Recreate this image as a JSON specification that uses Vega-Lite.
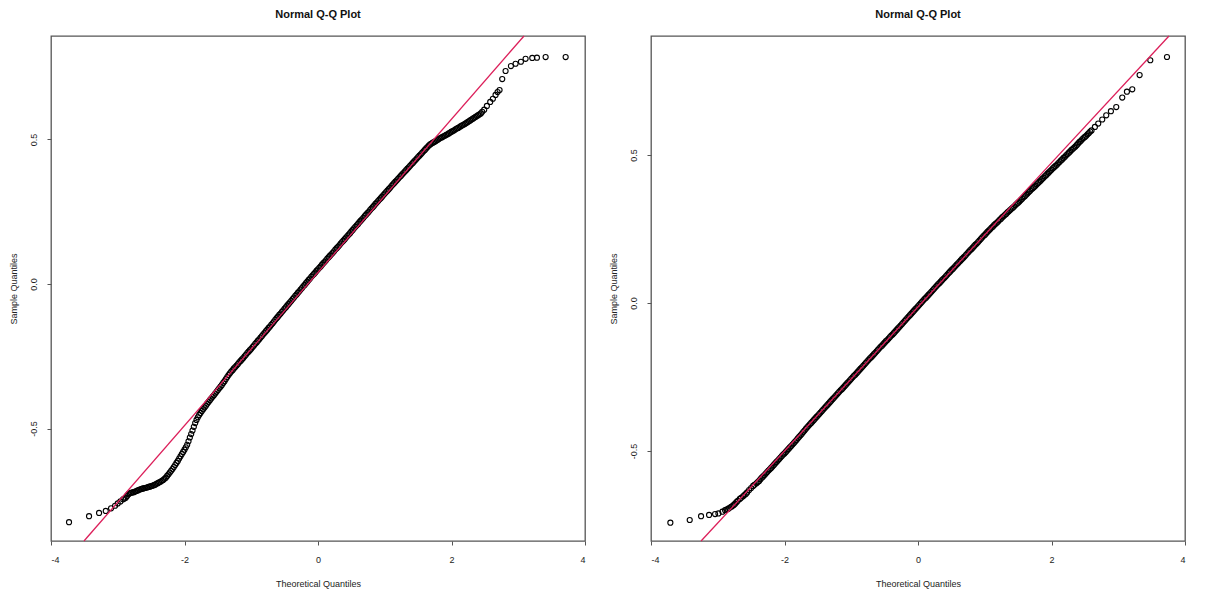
{
 "$schema": "https://vega.github.io/schema/vega-lite/v6.json",
 "padding": {"left": 8, "top": 8, "right": 0, "bottom": 0},
 "background": "white",
 "spacing": 66,
 "bounds": "flush",
 "config": {
  "font": "Liberation Sans",
  "view": {"stroke": "#555", "strokeWidth": 1.3},
  "axis": {"grid": false, "domain": false, "tickColor": "#555", "tickSize": 4, "labelFontSize": 9, "titleFontSize": 9, "labelColor": "#222", "titleColor": "#222", "titleFontWeight": "normal", "labelFont": "Liberation Sans", "titleFont": "Liberation Sans"},
  "title": {"fontSize": 11, "fontWeight": "bold", "color": "#111", "offset": 13, "anchor": "middle", "font": "Liberation Sans"}
 },
 "datasets": {
  "a": [
   {"x":-3.73,"y":-0.824},{"x":-3.43,"y":-0.803},{"x":-3.28,"y":-0.792},{"x":-3.18,"y":-0.785},{"x":-3.10,"y":-0.776},{"x":-3.04,"y":-0.767},{"x":-3.00,"y":-0.759},{"x":-2.96,"y":-0.752},{"x":-2.92,"y":-0.745},{"x":-2.88,"y":-0.739},{"x":-2.84,"y":-0.727},{"x":-2.80,"y":-0.722},{"x":-2.76,"y":-0.720},{"x":-2.72,"y":-0.716},{"x":-2.68,"y":-0.712},{"x":-2.64,"y":-0.709},{"x":-2.60,"y":-0.706},{"x":-2.56,"y":-0.704},{"x":-2.52,"y":-0.701},{"x":-2.48,"y":-0.698},{"x":-2.44,"y":-0.694},{"x":-2.40,"y":-0.689},{"x":-2.36,"y":-0.684},{"x":-2.32,"y":-0.678},{"x":-2.28,"y":-0.670},{"x":-2.24,"y":-0.658},{"x":-2.22,"y":-0.652},{"x":-2.20,"y":-0.646},{"x":-2.18,"y":-0.640},{"x":-2.16,"y":-0.633},{"x":-2.14,"y":-0.626},{"x":-2.12,"y":-0.619},{"x":-2.10,"y":-0.612},{"x":-2.08,"y":-0.604},{"x":-2.06,"y":-0.596},{"x":-2.04,"y":-0.588},{"x":-2.02,"y":-0.581},{"x":-2.00,"y":-0.573},{"x":-1.98,"y":-0.565},{"x":-1.96,"y":-0.556},{"x":-1.94,"y":-0.544},{"x":-1.92,"y":-0.531},{"x":-1.90,"y":-0.519},{"x":-1.88,"y":-0.507},{"x":-1.86,"y":-0.494},{"x":-1.84,"y":-0.481},{"x":-1.82,"y":-0.470},{"x":-1.80,"y":-0.461},{"x":-1.78,"y":-0.453},{"x":-1.76,"y":-0.446},{"x":-1.72,"y":-0.433},{"x":-1.68,"y":-0.421},{"x":-1.64,"y":-0.408},{"x":-1.60,"y":-0.396},{"x":-1.56,"y":-0.385},{"x":-1.52,"y":-0.373},{"x":-1.48,"y":-0.361},{"x":-1.44,"y":-0.349},{"x":-1.40,"y":-0.336},{"x":-1.36,"y":-0.322},{"x":-1.32,"y":-0.309},
   {"x":-1.28,"y":-0.298},{"x":-1.24,"y":-0.287},{"x":-1.20,"y":-0.277},{"x":-1.16,"y":-0.266},{"x":-1.12,"y":-0.256},{"x":-1.08,"y":-0.245},{"x":-1.04,"y":-0.234},{"x":-1.00,"y":-0.224},{"x":-0.96,"y":-0.213},{"x":-0.92,"y":-0.202},{"x":-0.88,"y":-0.191},{"x":-0.84,"y":-0.180},{"x":-0.80,"y":-0.169},{"x":-0.76,"y":-0.158},{"x":-0.72,"y":-0.147},{"x":-0.68,"y":-0.136},{"x":-0.64,"y":-0.124},{"x":-0.60,"y":-0.113},{"x":-0.56,"y":-0.102},{"x":-0.52,"y":-0.091},{"x":-0.48,"y":-0.080},{"x":-0.44,"y":-0.069},{"x":-0.40,"y":-0.058},{"x":-0.36,"y":-0.047},{"x":-0.32,"y":-0.036},{"x":-0.28,"y":-0.025},{"x":-0.24,"y":-0.014},{"x":-0.20,"y":-0.003},{"x":-0.16,"y":0.008},{"x":-0.12,"y":0.019},{"x":-0.08,"y":0.030},{"x":-0.04,"y":0.040},{"x":0.00,"y":0.051},{"x":0.04,"y":0.061},{"x":0.08,"y":0.072},{"x":0.12,"y":0.082},{"x":0.16,"y":0.093},{"x":0.20,"y":0.103},{"x":0.24,"y":0.113},{"x":0.28,"y":0.124},{"x":0.32,"y":0.134},{"x":0.36,"y":0.145},{"x":0.40,"y":0.155},{"x":0.44,"y":0.166},{"x":0.48,"y":0.176},{"x":0.52,"y":0.187},{"x":0.56,"y":0.198},{"x":0.60,"y":0.208},{"x":0.64,"y":0.219},{"x":0.68,"y":0.229},{"x":0.72,"y":0.240},{"x":0.76,"y":0.250},{"x":0.80,"y":0.261},{"x":0.84,"y":0.271},{"x":0.88,"y":0.282},{"x":0.92,"y":0.292},{"x":0.96,"y":0.302},{"x":1.00,"y":0.313},{"x":1.04,"y":0.323},{"x":1.08,"y":0.333},{"x":1.12,"y":0.344},{"x":1.16,"y":0.354},{"x":1.20,"y":0.364},{"x":1.24,"y":0.374},{"x":1.28,"y":0.384},{"x":1.32,"y":0.394},{"x":1.36,"y":0.404},{"x":1.40,"y":0.414},{"x":1.44,"y":0.424},{"x":1.48,"y":0.434},{"x":1.52,"y":0.444},{"x":1.56,"y":0.454},{"x":1.60,"y":0.464},{"x":1.64,"y":0.474},{"x":1.68,"y":0.483},
   {"x":1.72,"y":0.489},{"x":1.76,"y":0.494},{"x":1.80,"y":0.500},{"x":1.84,"y":0.506},{"x":1.88,"y":0.511},{"x":1.92,"y":0.516},{"x":1.96,"y":0.521},{"x":2.00,"y":0.527},{"x":2.04,"y":0.532},{"x":2.08,"y":0.538},{"x":2.12,"y":0.543},{"x":2.16,"y":0.549},{"x":2.20,"y":0.554},{"x":2.24,"y":0.560},{"x":2.28,"y":0.566},{"x":2.32,"y":0.572},{"x":2.36,"y":0.578},{"x":2.40,"y":0.584},{"x":2.44,"y":0.590},{"x":2.46,"y":0.596},{"x":2.49,"y":0.603},{"x":2.53,"y":0.616},{"x":2.58,"y":0.630},{"x":2.62,"y":0.641},{"x":2.66,"y":0.654},{"x":2.69,"y":0.664},{"x":2.72,"y":0.671},{"x":2.76,"y":0.709},{"x":2.81,"y":0.737},{"x":2.89,"y":0.754},{"x":2.96,"y":0.762},{"x":3.04,"y":0.769},{"x":3.11,"y":0.779},{"x":3.21,"y":0.782},{"x":3.28,"y":0.783},{"x":3.41,"y":0.785},{"x":3.71,"y":0.785},
   {"x":-2.90,"y":-0.742},{"x":-2.86,"y":-0.733},{"x":-2.82,"y":-0.724},{"x":-2.78,"y":-0.721},{"x":-2.74,"y":-0.718},{"x":-2.70,"y":-0.714},{"x":-2.66,"y":-0.710},{"x":-2.62,"y":-0.707},{"x":-2.58,"y":-0.705},{"x":-2.54,"y":-0.702},{"x":-2.50,"y":-0.699},{"x":-2.46,"y":-0.696},{"x":-2.42,"y":-0.691},{"x":-2.38,"y":-0.686},{"x":-2.34,"y":-0.681},{"x":-2.30,"y":-0.674},{"x":-2.26,"y":-0.664},
   {"x":-1.74,"y":-0.439},{"x":-1.70,"y":-0.427},{"x":-1.66,"y":-0.414},{"x":-1.62,"y":-0.402},{"x":-1.58,"y":-0.390},{"x":-1.54,"y":-0.379},{"x":-1.50,"y":-0.367},{"x":-1.46,"y":-0.355},{"x":-1.42,"y":-0.342},{"x":-1.38,"y":-0.329},{"x":-1.34,"y":-0.315},{"x":-1.30,"y":-0.303},{"x":-1.26,"y":-0.292},{"x":-1.22,"y":-0.282},{"x":-1.18,"y":-0.271},{"x":-1.14,"y":-0.261},{"x":-1.10,"y":-0.250},{"x":-1.06,"y":-0.239},{"x":-1.02,"y":-0.229},{"x":-0.98,"y":-0.218},{"x":-0.94,"y":-0.207},{"x":-0.90,"y":-0.196},{"x":-0.86,"y":-0.185},{"x":-0.82,"y":-0.174},{"x":-0.78,"y":-0.163},{"x":-0.74,"y":-0.152},{"x":-0.70,"y":-0.141},{"x":-0.66,"y":-0.130},{"x":-0.62,"y":-0.118},{"x":-0.58,"y":-0.107},{"x":-0.54,"y":-0.096},{"x":-0.50,"y":-0.085},{"x":-0.46,"y":-0.074},{"x":-0.42,"y":-0.063},{"x":-0.38,"y":-0.052},{"x":-0.34,"y":-0.041},{"x":-0.30,"y":-0.030},{"x":-0.26,"y":-0.019},{"x":-0.22,"y":-0.008},{"x":-0.18,"y":0.003},{"x":-0.14,"y":0.014},{"x":-0.10,"y":0.025},{"x":-0.06,"y":0.035},{"x":-0.02,"y":0.046},{"x":0.02,"y":0.056},{"x":0.06,"y":0.067},{"x":0.10,"y":0.077},{"x":0.14,"y":0.088},{"x":0.18,"y":0.098},{"x":0.22,"y":0.108},{"x":0.26,"y":0.119},{"x":0.30,"y":0.129},{"x":0.34,"y":0.140},{"x":0.38,"y":0.150},{"x":0.42,"y":0.161},{"x":0.46,"y":0.171},{"x":0.50,"y":0.182},{"x":0.54,"y":0.193},{"x":0.58,"y":0.203},{"x":0.62,"y":0.214},{"x":0.66,"y":0.224},{"x":0.70,"y":0.235},{"x":0.74,"y":0.245},{"x":0.78,"y":0.256},{"x":0.82,"y":0.266},{"x":0.86,"y":0.277},{"x":0.90,"y":0.287},{"x":0.94,"y":0.297},{"x":0.98,"y":0.308},{"x":1.02,"y":0.318},{"x":1.06,"y":0.328},{"x":1.10,"y":0.339},{"x":1.14,"y":0.349},{"x":1.18,"y":0.359},{"x":1.22,"y":0.369},{"x":1.26,"y":0.379},{"x":1.30,"y":0.389},{"x":1.34,"y":0.399},{"x":1.38,"y":0.409},{"x":1.42,"y":0.419},{"x":1.46,"y":0.429},{"x":1.50,"y":0.439},{"x":1.54,"y":0.449},{"x":1.58,"y":0.459},{"x":1.62,"y":0.469},{"x":1.66,"y":0.479},{"x":1.70,"y":0.486},{"x":1.74,"y":0.491},{"x":1.78,"y":0.497},{"x":1.82,"y":0.503},{"x":1.86,"y":0.508},{"x":1.90,"y":0.513},{"x":1.94,"y":0.518},{"x":1.98,"y":0.524},{"x":2.02,"y":0.529},{"x":2.06,"y":0.535},{"x":2.10,"y":0.540},{"x":2.14,"y":0.546},{"x":2.18,"y":0.551},{"x":2.22,"y":0.557},{"x":2.26,"y":0.563},{"x":2.30,"y":0.569},{"x":2.34,"y":0.575},{"x":2.38,"y":0.581},{"x":2.42,"y":0.587}
  ],
  "b": [
   {"x":-3.71,"y":-0.742},{"x":-3.42,"y":-0.733},{"x":-3.25,"y":-0.720},{"x":-3.13,"y":-0.716},{"x":-3.04,"y":-0.713},{"x":-2.99,"y":-0.711},{"x":-2.93,"y":-0.705},{"x":-2.89,"y":-0.700},{"x":-2.85,"y":-0.696},{"x":-2.80,"y":-0.689},{"x":-2.76,"y":-0.682},{"x":-2.72,"y":-0.673},{"x":-2.67,"y":-0.662},{"x":-2.62,"y":-0.653},{"x":-2.58,"y":-0.645},{"x":-2.53,"y":-0.632},{"x":-2.47,"y":-0.618},{"x":-2.42,"y":-0.609},{"x":-2.38,"y":-0.601},
   {"x":-2.36,"y":-0.595},{"x":-2.32,"y":-0.586},{"x":-2.28,"y":-0.576},{"x":-2.24,"y":-0.566},{"x":-2.20,"y":-0.557},{"x":-2.16,"y":-0.547},{"x":-2.12,"y":-0.537},{"x":-2.08,"y":-0.527},{"x":-2.04,"y":-0.517},{"x":-2.00,"y":-0.508},{"x":-1.96,"y":-0.498},{"x":-1.92,"y":-0.488},{"x":-1.88,"y":-0.478},{"x":-1.84,"y":-0.468},{"x":-1.80,"y":-0.457},{"x":-1.76,"y":-0.447},{"x":-1.72,"y":-0.436},{"x":-1.68,"y":-0.425},{"x":-1.64,"y":-0.415},{"x":-1.60,"y":-0.405},{"x":-1.56,"y":-0.395},{"x":-1.52,"y":-0.385},{"x":-1.48,"y":-0.375},{"x":-1.44,"y":-0.365},{"x":-1.40,"y":-0.355},{"x":-1.36,"y":-0.345},{"x":-1.32,"y":-0.335},{"x":-1.28,"y":-0.325},{"x":-1.24,"y":-0.315},{"x":-1.20,"y":-0.305},{"x":-1.16,"y":-0.295},{"x":-1.12,"y":-0.286},{"x":-1.08,"y":-0.276},{"x":-1.04,"y":-0.266},{"x":-1.00,"y":-0.256},{"x":-0.96,"y":-0.246},{"x":-0.92,"y":-0.237},{"x":-0.88,"y":-0.227},{"x":-0.84,"y":-0.217},{"x":-0.80,"y":-0.207},{"x":-0.76,"y":-0.197},{"x":-0.72,"y":-0.187},{"x":-0.68,"y":-0.178},{"x":-0.64,"y":-0.168},{"x":-0.60,"y":-0.158},{"x":-0.56,"y":-0.148},{"x":-0.52,"y":-0.139},{"x":-0.48,"y":-0.129},{"x":-0.44,"y":-0.120},{"x":-0.40,"y":-0.110},{"x":-0.36,"y":-0.101},{"x":-0.32,"y":-0.091},{"x":-0.28,"y":-0.081},{"x":-0.24,"y":-0.071},{"x":-0.20,"y":-0.061},{"x":-0.16,"y":-0.051},{"x":-0.12,"y":-0.041},{"x":-0.08,"y":-0.031},{"x":-0.04,"y":-0.021},{"x":0.00,"y":-0.011},{"x":0.04,"y":-0.001},{"x":0.08,"y":0.009},{"x":0.12,"y":0.018},{"x":0.16,"y":0.028},{"x":0.20,"y":0.038},{"x":0.24,"y":0.048},{"x":0.28,"y":0.058},{"x":0.32,"y":0.067},{"x":0.36,"y":0.077},{"x":0.40,"y":0.086},{"x":0.44,"y":0.096},{"x":0.48,"y":0.106},{"x":0.52,"y":0.115},{"x":0.56,"y":0.125},{"x":0.60,"y":0.134},{"x":0.64,"y":0.144},{"x":0.68,"y":0.153},{"x":0.72,"y":0.163},{"x":0.76,"y":0.173},{"x":0.80,"y":0.182},{"x":0.84,"y":0.192},{"x":0.88,"y":0.201},{"x":0.92,"y":0.211},{"x":0.96,"y":0.221},{"x":1.00,"y":0.230},{"x":1.04,"y":0.240},{"x":1.08,"y":0.249},{"x":1.12,"y":0.258},{"x":1.16,"y":0.267},{"x":1.20,"y":0.275},{"x":1.24,"y":0.284},{"x":1.28,"y":0.293},{"x":1.32,"y":0.301},{"x":1.36,"y":0.310},{"x":1.40,"y":0.318},{"x":1.44,"y":0.326},{"x":1.48,"y":0.335},{"x":1.52,"y":0.343},{"x":1.56,"y":0.352},{"x":1.60,"y":0.361},{"x":1.64,"y":0.370},{"x":1.68,"y":0.379},{"x":1.72,"y":0.388},{"x":1.76,"y":0.396},{"x":1.80,"y":0.405},{"x":1.84,"y":0.414},{"x":1.88,"y":0.423},{"x":1.92,"y":0.432},{"x":1.96,"y":0.441},{"x":2.00,"y":0.450},{"x":2.04,"y":0.459},{"x":2.08,"y":0.467},{"x":2.12,"y":0.476},{"x":2.16,"y":0.485},{"x":2.20,"y":0.494},{"x":2.24,"y":0.503},{"x":2.28,"y":0.512},{"x":2.32,"y":0.521},{"x":2.36,"y":0.529},{"x":2.40,"y":0.539},{"x":2.44,"y":0.548},{"x":2.48,"y":0.557},{"x":2.52,"y":0.565},{"x":2.56,"y":0.574},{"x":2.60,"y":0.583},
   {"x":2.65,"y":0.595},{"x":2.70,"y":0.606},{"x":2.76,"y":0.620},{"x":2.82,"y":0.634},{"x":2.89,"y":0.648},{"x":2.97,"y":0.662},{"x":3.06,"y":0.694},{"x":3.13,"y":0.714},{"x":3.21,"y":0.722},{"x":3.32,"y":0.770},{"x":3.48,"y":0.820},{"x":3.73,"y":0.831},
   {"x":-2.87,"y":-0.698},{"x":-2.83,"y":-0.693},{"x":-2.78,"y":-0.686},{"x":-2.74,"y":-0.678},{"x":-2.70,"y":-0.668},{"x":-2.65,"y":-0.658},{"x":-2.60,"y":-0.649},{"x":-2.56,"y":-0.640},{"x":-2.50,"y":-0.625},{"x":-2.45,"y":-0.614},{"x":-2.40,"y":-0.605},
   {"x":-2.34,"y":-0.590},{"x":-2.30,"y":-0.581},{"x":-2.26,"y":-0.571},{"x":-2.22,"y":-0.562},{"x":-2.18,"y":-0.552},{"x":-2.14,"y":-0.542},{"x":-2.10,"y":-0.532},{"x":-2.06,"y":-0.522},{"x":-2.02,"y":-0.512},{"x":-1.98,"y":-0.503},{"x":-1.94,"y":-0.493},{"x":-1.90,"y":-0.483},{"x":-1.86,"y":-0.473},{"x":-1.82,"y":-0.463},{"x":-1.78,"y":-0.452},{"x":-1.74,"y":-0.442},{"x":-1.70,"y":-0.431},{"x":-1.66,"y":-0.420},{"x":-1.62,"y":-0.410},{"x":-1.58,"y":-0.400},{"x":-1.54,"y":-0.390},{"x":-1.50,"y":-0.380},{"x":-1.46,"y":-0.370},{"x":-1.42,"y":-0.360},{"x":-1.38,"y":-0.350},{"x":-1.34,"y":-0.340},{"x":-1.30,"y":-0.330},{"x":-1.26,"y":-0.320},{"x":-1.22,"y":-0.310},{"x":-1.18,"y":-0.300},{"x":-1.14,"y":-0.291},{"x":-1.10,"y":-0.281},{"x":-1.06,"y":-0.271},{"x":-1.02,"y":-0.261},{"x":-0.98,"y":-0.251},{"x":-0.94,"y":-0.242},{"x":-0.90,"y":-0.232},{"x":-0.86,"y":-0.222},{"x":-0.82,"y":-0.212},{"x":-0.78,"y":-0.202},{"x":-0.74,"y":-0.192},{"x":-0.70,"y":-0.183},{"x":-0.66,"y":-0.173},{"x":-0.62,"y":-0.163},{"x":-0.58,"y":-0.153},{"x":-0.54,"y":-0.144},{"x":-0.50,"y":-0.134},{"x":-0.46,"y":-0.125},{"x":-0.42,"y":-0.115},{"x":-0.38,"y":-0.106},{"x":-0.34,"y":-0.096},{"x":-0.30,"y":-0.086},{"x":-0.26,"y":-0.076},{"x":-0.22,"y":-0.066},{"x":-0.18,"y":-0.056},{"x":-0.14,"y":-0.046},{"x":-0.10,"y":-0.036},{"x":-0.06,"y":-0.026},{"x":-0.02,"y":-0.016},{"x":0.02,"y":-0.006},{"x":0.06,"y":0.004},{"x":0.10,"y":0.014},{"x":0.14,"y":0.023},{"x":0.18,"y":0.033},{"x":0.22,"y":0.043},{"x":0.26,"y":0.053},{"x":0.30,"y":0.063},{"x":0.34,"y":0.072},{"x":0.38,"y":0.082},{"x":0.42,"y":0.091},{"x":0.46,"y":0.101},{"x":0.50,"y":0.111},{"x":0.54,"y":0.120},{"x":0.58,"y":0.130},{"x":0.62,"y":0.139},{"x":0.66,"y":0.149},{"x":0.70,"y":0.158},{"x":0.74,"y":0.168},{"x":0.78,"y":0.178},{"x":0.82,"y":0.187},{"x":0.86,"y":0.197},{"x":0.90,"y":0.206},{"x":0.94,"y":0.216},{"x":0.98,"y":0.226},{"x":1.02,"y":0.235},{"x":1.06,"y":0.245},{"x":1.10,"y":0.254},{"x":1.14,"y":0.263},{"x":1.18,"y":0.271},{"x":1.22,"y":0.280},{"x":1.26,"y":0.289},{"x":1.30,"y":0.297},{"x":1.34,"y":0.306},{"x":1.38,"y":0.314},{"x":1.42,"y":0.322},{"x":1.46,"y":0.331},{"x":1.50,"y":0.339},{"x":1.54,"y":0.348},{"x":1.58,"y":0.357},{"x":1.62,"y":0.366},{"x":1.66,"y":0.375},{"x":1.70,"y":0.384},{"x":1.74,"y":0.392},{"x":1.78,"y":0.401},{"x":1.82,"y":0.410},{"x":1.86,"y":0.419},{"x":1.90,"y":0.428},{"x":1.94,"y":0.437},{"x":1.98,"y":0.446},{"x":2.02,"y":0.455},{"x":2.06,"y":0.463},{"x":2.10,"y":0.472},{"x":2.14,"y":0.481},{"x":2.18,"y":0.490},{"x":2.22,"y":0.499},{"x":2.26,"y":0.508},{"x":2.30,"y":0.517},{"x":2.34,"y":0.525},{"x":2.38,"y":0.534},{"x":2.42,"y":0.544},{"x":2.46,"y":0.553},{"x":2.50,"y":0.561},{"x":2.54,"y":0.570},{"x":2.58,"y":0.579}
  ],
  "la": [{"x":-3.506,"y":-0.889},{"x":3.086,"y":0.858}],
  "lb": [{"x":-3.25,"y":-0.804},{"x":3.76,"y":0.902}]
 },
 "hconcat": [
  {
   "width": 534, "height": 505,
   "title": "Normal Q-Q Plot",
   "layer": [
    {
     "data": {"name": "a"},
     "mark": {"type": "point", "shape": "circle", "filled": false, "stroke": "#000", "strokeWidth": 1.1, "size": 26, "opacity": 1},
     "encoding": {
      "x": {"field": "x", "type": "quantitative", "scale": {"domain": [-4, 4], "nice": false, "zero": false},
            "axis": {"title": "Theoretical Quantiles", "values": [-4, -2, 0, 2, 4], "labelExpr": "datum.value < 0 ? '-' + (-datum.value) : '' + datum.value", "labelPadding": 10, "titleY": 42, "titleBaseline": "middle"}},
      "y": {"field": "y", "type": "quantitative", "scale": {"domain": [-0.889, 0.858], "nice": false, "zero": false},
            "axis": {"title": "Sample Quantiles", "values": [-0.5, 0, 0.5], "labelExpr": "datum.value < 0 ? '-' + format(-datum.value, '.1f') : format(datum.value, '.1f')", "labelAngle": -90, "labelPadding": 9, "titleX": -38, "titleBaseline": "middle"}}
     }
    },
    {
     "data": {"name": "la"},
     "mark": {"type": "line", "color": "#DC1F5A", "strokeWidth": 1.3},
     "encoding": {"x": {"field": "x", "type": "quantitative"}, "y": {"field": "y", "type": "quantitative"}}
    }
   ]
  },
  {
   "width": 534, "height": 505,
   "title": "Normal Q-Q Plot",
   "layer": [
    {
     "data": {"name": "b"},
     "mark": {"type": "point", "shape": "circle", "filled": false, "stroke": "#000", "strokeWidth": 1.1, "size": 26, "opacity": 1},
     "encoding": {
      "x": {"field": "x", "type": "quantitative", "scale": {"domain": [-4, 4], "nice": false, "zero": false},
            "axis": {"title": "Theoretical Quantiles", "values": [-4, -2, 0, 2, 4], "labelExpr": "datum.value < 0 ? '-' + (-datum.value) : '' + datum.value", "labelPadding": 10, "titleY": 42, "titleBaseline": "middle"}},
      "y": {"field": "y", "type": "quantitative", "scale": {"domain": [-0.804, 0.902], "nice": false, "zero": false},
            "axis": {"title": "Sample Quantiles", "values": [-0.5, 0, 0.5], "labelExpr": "datum.value < 0 ? '-' + format(-datum.value, '.1f') : format(datum.value, '.1f')", "labelAngle": -90, "labelPadding": 9, "titleX": -38, "titleBaseline": "middle"}}
     }
    },
    {
     "data": {"name": "lb"},
     "mark": {"type": "line", "color": "#DC1F5A", "strokeWidth": 1.3},
     "encoding": {"x": {"field": "x", "type": "quantitative"}, "y": {"field": "y", "type": "quantitative"}}
    }
   ]
  }
 ]
}
